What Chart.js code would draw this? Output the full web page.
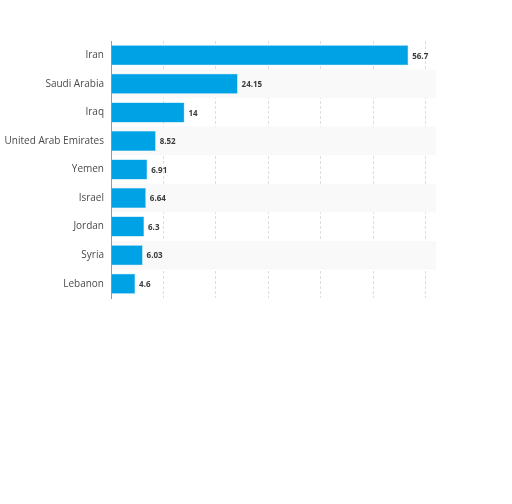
<!DOCTYPE html>
<html>
<head>
<meta charset="utf-8">
<script src="https://cdn.jsdelivr.net/npm/chart.js@4/dist/chart.umd.min.js"></script>
<style>
  html, body { margin: 0; padding: 0; background: #fff; }
  #wrap { width: 512px; height: 504px; }
</style>
</head>
<body>
<div id="wrap"><canvas id="chart"></canvas></div>
<script>
// ====== DATA ======
const countries = ["Iran", "Saudi Arabia", "Iraq", "United Arab Emirates", "Yemen", "Israel", "Jordan", "Syria", "Lebanon"];
const values = [56.7, 24.15, 14, 8.52, 6.91, 6.64, 6.3, 6.03, 4.6];
const valueLabels = ["56.7", "24.15", "14", "8.52", "6.91", "6.64", "6.3", "6.03", "4.6"];
const gridTicks = [0, 10, 20, 30, 40, 50, 60];

// ====== PLUGINS ======
// alternating grey row bands behind the bars
const rowBands = {
  id: "rowBands",
  beforeDatasetsDraw(chart) {
    const { ctx, chartArea, scales } = chart;
    const y = scales.y;
    const step = chartArea.height / countries.length;
    ctx.save();
    ctx.fillStyle = "#f9f9f9";
    countries.forEach((c, i) => {
      if (i % 2 === 1) {
        const cy = y.getPixelForValue(i);
        ctx.fillRect(chartArea.left + 1, cy - step / 2, chartArea.right - chartArea.left - 1, step);
      }
    });
    ctx.restore();
  }
};

// value labels at the end of each bar
const barValues = {
  id: "barValues",
  afterDatasetsDraw(chart) {
    const { ctx } = chart;
    const meta = chart.getDatasetMeta(0);
    ctx.save();
    ctx.font = "bold 8px 'Open Sans', sans-serif";
    ctx.fillStyle = "#3a3a3a";
    ctx.textBaseline = "middle";
    ctx.textAlign = "left";
    meta.data.forEach((bar, i) => {
      ctx.fillText(valueLabels[i], bar.x + 4, bar.y + 1);
    });
    ctx.restore();
  }
};

// ====== CHART ======
const ctx = document.getElementById("chart").getContext("2d");
new Chart(ctx, {
  type: "bar",
  data: {
    labels: countries,
    datasets: [{
      data: values,
      backgroundColor: "#00a2e6",
      borderColor: "#3cb8ee",
      borderWidth: 0.5,
      categoryPercentage: 0.7,
      barPercentage: 1
    }]
  },
  options: {
    indexAxis: "y",
    responsive: true,
    maintainAspectRatio: false,
    animation: false,
    layout: { padding: { left: 0, top: 41, right: 76, bottom: 206 } },
    plugins: {
      legend: { display: false },
      tooltip: { enabled: false }
    },
    scales: {
      x: {
        min: 0,
        max: 62,
        ticks: { display: false },
        afterBuildTicks(scale) {
          scale.ticks = gridTicks.map(v => ({ value: v }));
        },
        grid: {
          drawTicks: false,
          color: (c) => (c.tick && c.tick.value > 0 ? "#dedede" : "transparent"),
          lineWidth: 1
        },
        border: { display: false, dash: [3, 2] },
        afterFit(scale) { scale.height = 0; }
      },
      y: {
        grid: { display: false, drawTicks: false },
        border: { display: true, color: "#999", width: 1 },
        ticks: {
          color: "#4a4a4a",
          padding: 7,
          font: { family: "'Open Sans', sans-serif", size: 10 }
        },
        afterFit(scale) { scale.width = 111; }
      }
    }
  },
  plugins: [rowBands, barValues]
});
</script>
</body>
</html>
